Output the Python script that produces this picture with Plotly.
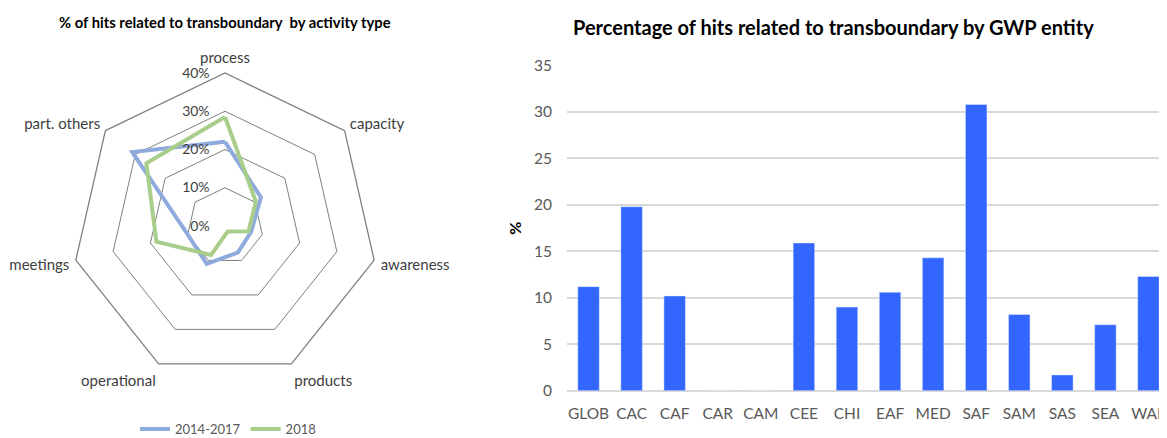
import plotly.graph_objects as go

# the page puts the figure 8px in from the window corner
OFF = 8
WIN_W, WIN_H = 1167, 438
W, H = WIN_W - OFF, WIN_H - OFF

# radar data: % of hits by activity type
activities = ["process", "capacity", "awareness", "products", "operational", "meetings", "part. others"]
hits_2014_2017 = [22, 12, 7, 7.7, 11, 10, 31]
hits_2018 = [28.5, 10.3, 6.3, 1.6, 8.4, 18.4, 26.3]
radar_ticks = [0, 10, 20, 30, 40]

# bar data: % of hits by GWP entity
entities = ["GLOB", "CAC", "CAF", "CAR", "CAM", "CEE", "CHI", "EAF", "MED", "SAF", "SAM", "SAS", "SEA", "WAF"]
entity_pct = [11.2, 19.8, 10.2, 0, 0, 15.9, 9.0, 10.6, 14.3, 30.8, 8.2, 1.7, 7.1, 12.3]

BLUE = "#8FAADC"
GREEN = "#A9CD8B"
FONT = "Lato, Carlito, sans-serif"


def px_x(x):
    # window pixel -> paper fraction
    return (x - OFF) / W


def px_y(y):
    return (WIN_H - y) / H


def closed(vals):
    return vals + vals[:1]


fig = go.Figure()

fig.add_trace(go.Scatterpolar(
    r=closed(hits_2014_2017), theta=closed(activities),
    mode="lines", name="2014-2017",
    line=dict(color=BLUE, width=4),
))
fig.add_trace(go.Scatterpolar(
    r=closed(hits_2018), theta=closed(activities),
    mode="lines", name="2018",
    line=dict(color=GREEN, width=4),
))

fig.add_trace(go.Bar(
    x=entities, y=entity_pct, marker_color="#3366FF",
    width=0.5, showlegend=False,
))

# polar placement: centre (225, 226) px, radius 153 px
cx, cy, rad = 225, 226, 153
fig.update_layout(
    width=W, height=H,
    margin=dict(l=0, r=0, t=0, b=0, autoexpand=False),
    paper_bgcolor="white", plot_bgcolor="white",
    font=dict(family=FONT, color="#404040"),
    polar=dict(
        domain=dict(x=[px_x(cx - rad), px_x(cx + rad)], y=[px_y(cy + rad), px_y(cy - rad)]),
        gridshape="linear",
        bgcolor="white",
        angularaxis=dict(
            direction="clockwise", rotation=90,
            showgrid=False, showline=True, linecolor="#7F7F7F", linewidth=1.3,
            ticks="outside", ticklen=3, tickcolor="rgba(0,0,0,0)",
            tickfont=dict(size=15, color="#404040"),
        ),
        radialaxis=dict(
            range=[0, 40], tickvals=radar_ticks,
            ticktext=[f"{v}%" for v in radar_ticks],
            angle=90, tickangle=90, side="counterclockwise", showline=False,
            ticks="outside", ticklen=10, tickcolor="rgba(0,0,0,0)",
            gridcolor="#7F7F7F", gridwidth=1.3,
            tickfont=dict(size=14, color="#404040"),
        ),
    ),
    xaxis=dict(
        domain=[px_x(567), 1.0], range=[-0.5, 13.43],
        showgrid=False, showline=False, ticks="", ticklabelstandoff=12,
        tickfont=dict(size=15.5, color="#595959"),
    ),
    yaxis=dict(
        domain=[px_y(390.7), px_y(65.5)], range=[0, 35], dtick=5,
        gridcolor="#D9D9D9", gridwidth=2, zeroline=True, zerolinecolor="#D9D9D9", zerolinewidth=2,
        ticks="", ticklabelstandoff=14, tickfont=dict(size=15.5, color="#595959"),
        title=dict(text="<b>%</b>", font=dict(size=16, color="#000000"), standoff=8),
    ),
    legend=dict(
        orientation="h", x=px_x(228), xanchor="center", y=px_y(429), yanchor="middle",
        font=dict(size=13, color="#595959"), bgcolor="rgba(0,0,0,0)",
        itemwidth=30, tracegroupgap=0,
    ),
    annotations=[
        dict(text="<b>% of hits related to transboundary  by activity type</b>",
             x=px_x(225), y=px_y(22), xref="paper", yref="paper", showarrow=False,
             font=dict(size=14.8, color="#000000"), xanchor="center", yanchor="middle"),
        dict(text="<b>Percentage of hits related to transboundary by GWP entity</b>",
             x=px_x(571), y=px_y(27), xref="paper", yref="paper", showarrow=False,
             font=dict(size=20, color="#000000"), xanchor="left", yanchor="middle"),
    ],
)

fig.write_html("out.html")
